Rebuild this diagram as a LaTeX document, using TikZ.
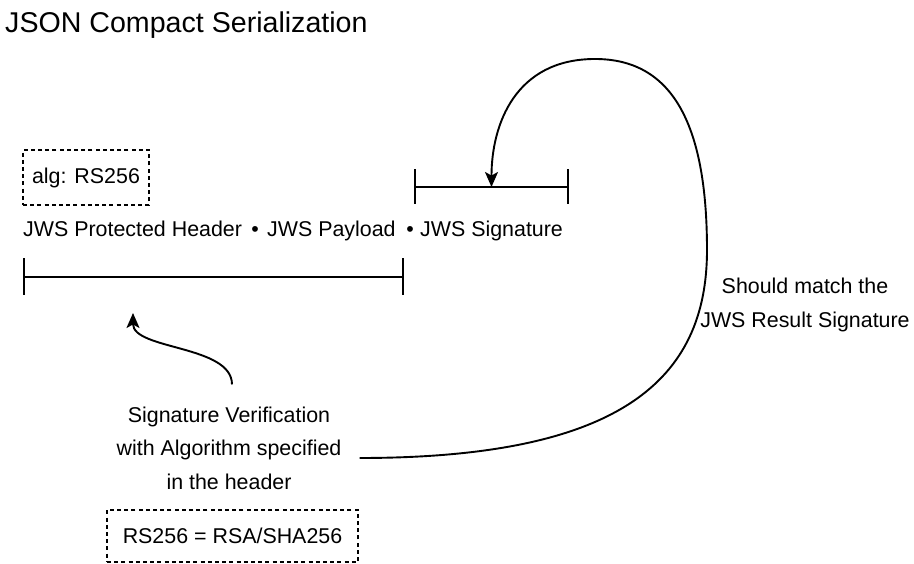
\documentclass[tikz,border=0pt]{standalone}
\usepackage{fontspec}
\setmainfont{Liberation Sans}
\usetikzlibrary{arrows.meta}
\begin{document}
\begin{tikzpicture}[x=1pt,y=-1pt,
  txt/.style={inner sep=0pt, font=\fontsize{21.4}{33.5}\selectfont, text=black},
  dashbox/.style={draw, line width=1.7pt, dash pattern=on 4pt off 3.2pt},
  rule/.style={line width=2pt},
  arr/.style={line width=1.9pt, -{Stealth[length=15pt,width=13pt,inset=3.5pt]}}]
\useasboundingbox (0,0) rectangle (914,564);

% title
\node[anchor=base west, inner sep=0pt, font=\fontsize{28.6}{34}\selectfont, text=black]
  (title) at (5,33) {JSON Compact Serialization};

% header parameter box
\node[txt, dashbox, minimum width=126pt, minimum height=55pt] (alg) at (86,177.5) {alg: RS256};

% the three parts of the token
\node[txt, anchor=base west] (hdr) at (23,237) {JWS Protected Header};
\node[txt, anchor=base] (dotA) at (255,237) {•};
\node[txt, anchor=base west] (pay) at (267,237) {JWS Payload};
\node[txt, anchor=base] (dotB) at (410,237) {•};
\node[txt, anchor=base west] (sig) at (420,237) {JWS Signature};

% bracket over the signature
\coordinate (sigL) at (415,187);
\coordinate (sigR) at (568,187);
\coordinate (sigM) at (491.5,187);
\draw[rule] (sigL) -- (sigR);
\draw[rule] ([yshift=17.5pt]sigL) -- ([yshift=-17.5pt]sigL);
\draw[rule] ([yshift=17.5pt]sigR) -- ([yshift=-17.5pt]sigR);

% bracket under header and payload
\coordinate (inL) at (24,277);
\coordinate (inR) at (403,277);
\draw[rule] (inL) -- (inR);
\draw[rule] ([yshift=18.5pt]inL) -- ([yshift=-18.5pt]inL);
\draw[rule] ([yshift=18.5pt]inR) -- ([yshift=-18.5pt]inR);

% verification step
\node[txt, align=center] (verif) at (229,448)
  {Signature Verification\\with Algorithm specified\\in the header};
\node[txt, dashbox, minimum width=251pt, minimum height=52pt] (rs) at (232.5,536) {RS256 = RSA/SHA256};

% comparison note
\node[txt, align=center] (match) at (805,305) {Should match the\\JWS Result Signature};

% arrow from the verification up to the signed input
\coordinate (vstart) at ([xshift=3pt,yshift=22pt]verif.north);
\coordinate (vtip) at (133,313);
\draw[arr] (vstart) .. controls (232,345) and (133,350) .. (vtip);

% loop from the verification round to the signature
\coordinate (loopstart) at ([xshift=18pt,yshift=-10pt]verif.east);
\draw[arr] (loopstart) .. controls (620,458) and (707,380) .. (707,250)
  .. controls (707,120) and (670,59) .. (595,59)
  .. controls (515,59) and (491.5,125) .. (sigM);
\end{tikzpicture}
\end{document}
